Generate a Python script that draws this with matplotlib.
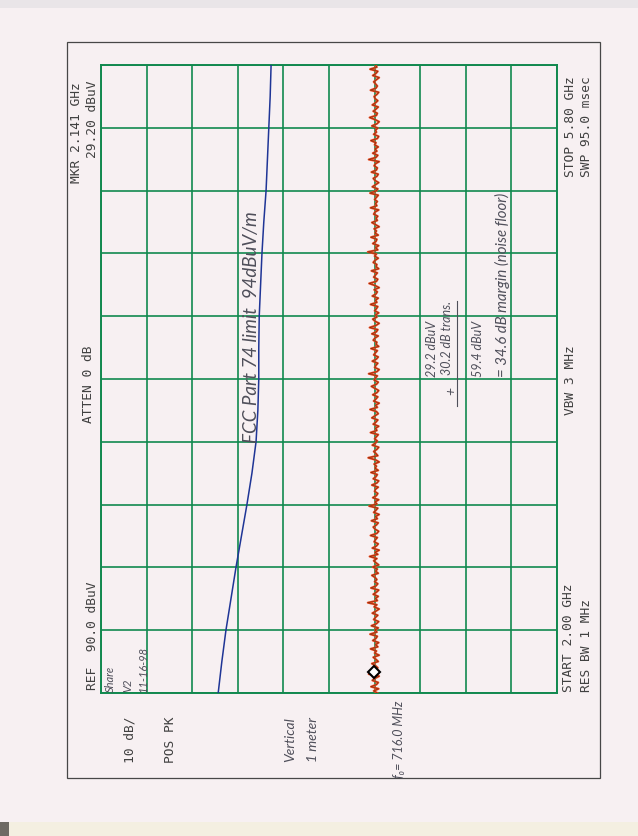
import numpy as np
import matplotlib
matplotlib.use("Agg")
import matplotlib.pyplot as plt
from matplotlib.patches import Rectangle
from matplotlib.transforms import offset_copy

W, H = 638, 837

# analyzer settings
ref_level = 90.0      # dBuV at the left edge of the screen
db_per_div = 10.0
f_start, f_stop = 2.00, 5.80   # GHz

# FCC Part 74 limit (blue curve), read every half division
limit_freq = [2.00, 2.19, 2.38, 2.57, 2.76, 2.95, 3.14, 3.33, 3.52, 3.71, 3.90,
              4.09, 4.28, 4.47, 4.66, 4.85, 5.04, 5.23, 5.42, 5.61, 5.80]
limit_level = [64.3, 63.5, 62.6, 61.5, 60.4, 59.2, 58.0, 56.9, 56.0, 55.6, 55.4,
               55.4, 55.3, 55.0, 54.7, 54.3, 53.8, 53.5, 53.2, 52.9, 52.7]

# noise floor trace (dBuV), start -> stop
trace_level = [
    29.4, 30.2, 29.1, 30.8, 29.6, 29.2, 30.5, 29.9, 29.0, 31.3, 29.5, 30.1, 29.3, 29.8, 30.6, 29.2, 29.7, 30.3, 29.0, 30.0,
    29.6, 30.9, 29.3, 29.8, 29.1, 30.4, 29.7, 29.4, 31.0, 29.5, 29.9, 29.2, 30.7, 29.6, 29.1, 30.2, 29.8, 29.3, 30.5, 29.7,
    29.0, 30.1, 29.5, 31.5, 29.4, 29.8, 29.2, 30.3, 29.6, 29.1, 30.8, 29.7, 29.3, 30.0, 29.5, 29.9, 30.6, 29.2, 29.8, 29.4,
    30.4, 29.1, 29.7, 30.2, 29.5, 31.1, 29.3, 29.9, 29.0, 30.5, 29.6, 29.2, 30.1, 29.8, 29.4, 30.9, 29.5, 29.1, 29.9, 30.3,
    29.6, 29.2, 30.7, 29.4, 29.8, 29.0, 30.2, 29.7, 29.3, 31.2, 29.5, 29.9, 29.1, 30.4, 29.6, 29.3, 30.0, 29.8, 29.2, 30.6,
    29.5, 29.1, 30.3, 29.7, 29.4, 30.8, 29.2, 29.9, 29.6, 30.1, 29.0, 29.8, 31.4, 29.3, 29.7, 30.2, 29.5, 29.1, 30.5, 29.8,
    29.4, 30.0, 29.6, 29.2, 30.9, 29.5, 29.8, 29.1, 30.3, 29.7, 29.3, 30.6, 29.9, 29.2, 29.6, 31.0, 29.4, 29.8, 29.0, 30.2,
    29.7, 29.3, 30.4, 29.5, 29.1, 29.9, 30.7, 29.6, 29.2, 30.1, 29.8, 29.4, 31.3, 29.5, 29.0, 30.0, 29.7, 29.3, 30.5, 29.6,
    29.2, 30.2, 29.8, 29.4, 30.8, 29.1, 29.7, 29.5, 30.3, 29.9, 29.2, 30.6, 29.6, 29.3, 31.1, 29.7, 29.0, 29.9, 30.4, 29.5,
    29.8, 29.1, 30.0, 29.6, 29.3, 30.9, 29.5, 29.8, 29.2, 30.5, 29.7, 29.4, 30.1, 29.0, 29.9, 31.2, 29.6, 29.3, 30.2, 29.8,
    29.4, 30.7, 29.1, 29.7, 29.5, 30.3, 29.9, 29.2, 30.0, 29.6, 31.5, 29.3, 29.8, 29.1, 30.4, 29.7, 29.5, 30.8, 29.2, 29.9,
    29.6, 30.1, 29.0, 29.8, 30.6, 29.4, 29.7, 29.3, 30.2, 29.9, 29.1, 30.9, 29.5, 29.8, 29.4, 30.0, 29.6, 29.2, 31.0, 29.7,
    29.3, 30.5, 29.8, 29.1, 29.9, 30.3, 29.5, 29.2, 30.7, 29.6, 29.4, 30.1, 29.8, 29.0, 31.3, 29.7, 29.3, 30.4, 29.5, 29.9,
    29.2, 30.0, 29.7, 30.8, 29.4, 29.1, 30.2, 29.6, 29.8, 29.3, 30.6, 29.5, 29.0, 29.9, 31.1, 29.6, 29.4, 30.3, 29.7, 29.2,
    30.5, 29.8, 29.3, 29.9, 30.1, 29.5, 29.1, 30.9, 29.7, 29.4, 29.8, 30.2, 29.6, 29.0, 30.4, 29.7, 29.3, 31.0, 29.5, 29.8,
]

marker_freq = 2.141
marker_level = 29.2

paper = "#f7f0f2"
grid_green = "#11894f"
mono = "DejaVu Sans Mono"
hand = ["Lato", "DejaVu Sans"]
ink = "#404040"
pencil = "#4f4f5a"

fig = plt.figure(figsize=(W / 100, H / 100), dpi=100, facecolor=paper)


def px_rect(x0, y0, x1, y1, **kw):
    # rectangle given in picture pixels (origin top-left)
    r = Rectangle((x0 / W, 1 - y1 / H), (x1 - x0) / W, (y1 - y0) / H,
                  transform=fig.transFigure, **kw)
    fig.patches.append(r)


def vtext(x, y, s, va="bottom", **kw):
    # text reading bottom -> top, placed at picture pixels
    fig.text(x / W, 1 - y / H, s, rotation=90, ha="center", va=va, **kw)


def note(x, y, s, size=9, va="bottom"):
    vtext(x, y, s, va=va, family=hand, style="italic", weight="normal",
          size=size, color=pencil)


# scan edges
px_rect(0, 0, W, 9, facecolor="#e9e5e8", edgecolor="none")
px_rect(0, 823, W, H, facecolor="#f4efe1", edgecolor="none")
px_rect(0, 823, 9, H, facecolor="#6e6a64", edgecolor="none")

# plotter frame
px_rect(67, 43, 600, 779, facecolor="none", edgecolor="#474747", lw=0.9)

# screen graticule
ax = fig.add_axes([101 / W, 1 - 694 / H, 456 / W, 628 / H])
ax.set_facecolor(paper)
ax.set_xlim(ref_level, ref_level - 10 * db_per_div)
ax.set_ylim(f_start, f_stop)
ax.set_xticks(np.arange(ref_level - 10 * db_per_div, ref_level + 1, db_per_div))
ax.set_yticks(np.linspace(f_start, f_stop, 11))
ax.grid(True, color=grid_green, lw=1.2)
ax.tick_params(length=0, labelbottom=False, labelleft=False)
for sp in ax.spines.values():
    sp.set_color(grid_green)
    sp.set_linewidth(1.4)

# limit line
ax.plot(limit_level, limit_freq, color="#1f3596", lw=1.1, zorder=3)

# measured trace
trace_freq = np.linspace(f_start, f_stop, len(trace_level))
ax.plot(trace_level, trace_freq, color="#ec4a1c", lw=1.5, zorder=4)
ax.plot(trace_level, trace_freq, color="#2a1510", lw=0.4, alpha=0.6, zorder=5)

# marker
mk_tr = offset_copy(ax.transData, fig=fig, x=-4, y=-2, units="dots")
ax.plot([marker_level], [marker_freq], marker="D", ms=6.5, mfc="white",
        mec="black", mew=1.5, transform=mk_tr, zorder=6, clip_on=False)

# analyzer annotations
fs = 9.3
vtext(77, 82, "MKR 2.141 GHz", va="top", family=mono, size=fs, color=ink)
vtext(92, 80, "29.20 dBuV", va="top", family=mono, size=fs, color=ink)
vtext(88, 384, "ATTEN 0 dB", va="center", family=mono, size=fs, color=ink)
vtext(92, 690, "REF  90.0 dBuV", family=mono, size=fs, color=ink)
vtext(130, 763, "10 dB/", family=mono, size=fs, color=ink)
vtext(170, 763, "POS PK", family=mono, size=fs, color=ink)
vtext(570, 380, "VBW 3 MHz", va="center", family=mono, size=fs, color=ink)
vtext(570, 177, "STOP 5.80 GHz", family=mono, size=fs, color=ink)
vtext(586, 177, "SWP 95.0 msec", family=mono, size=fs, color=ink)
vtext(568, 692, "START 2.00 GHz", family=mono, size=fs, color=ink)
vtext(587, 692, "RES BW 1 MHz", family=mono, size=fs, color=ink)

# handwritten notes
note(252, 443, "FCC Part 74 limit  94dBuV/m", size=13.5)
note(110, 692, "Share", size=8)
note(128, 692, "V2", size=8)
note(143, 692, "11-16-98", size=8)
note(290, 762, "Vertical", size=10)
note(313, 762, "1 meter", size=10)
note(399, 778, "f\u2080= 716.0 MHz", size=9)
note(432, 377, "29.2 dBuV", size=9)
note(447, 375, "30.2 dB trans.", size=9)
note(451, 391, "+", size=10, va="center")
fig.lines.append(plt.Line2D([457 / W, 457 / W], [1 - 407 / H, 1 - 302 / H],
                            transform=fig.transFigure, color=pencil, lw=0.8))
note(478, 377, "59.4 dBuV", size=9)
note(502, 377, "= 34.6 dB margin (noise floor)", size=10.8)

fig.savefig("out.png", dpi=100, facecolor=paper)
